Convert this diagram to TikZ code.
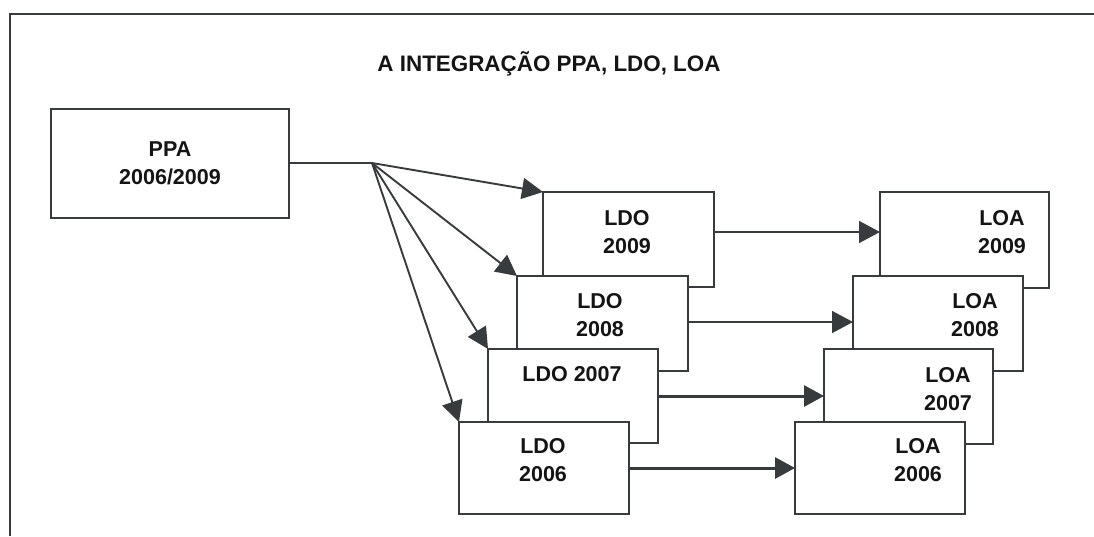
\documentclass[tikz,border=0pt]{standalone}
\usepackage{fontspec}
\setmainfont{Liberation Sans}
\usetikzlibrary{arrows.meta}
\definecolor{ln}{HTML}{383B3D}
\definecolor{tx}{HTML}{141414}
\tikzset{
  box/.style={draw=ln, line width=2.4pt, fill=white, inner sep=0pt, outer sep=0pt},
  lbl/.style={text=tx, font=\bfseries\fontsize{21.5}{28}\selectfont, align=center, inner sep=0pt},
  fan/.style={draw=ln, line width=1.9pt, -{Triangle[length=21pt,width=21pt]}},
  harr/.style={draw=ln, line width=1.6pt, -{Triangle[length=21pt,width=22pt]}},
  harrb/.style={draw=ln, line width=3pt, -{Triangle[length=20pt,width=21pt]}},
}
\begin{document}
\begin{tikzpicture}[x=1pt,y=-1pt]
\useasboundingbox (0,0) rectangle (1094,536);
% frame
\draw[ln, line width=2.8pt] (10,536) -- (10,14) -- (1094,14);
% title
\node[lbl, font=\bfseries\fontsize{22.4}{28}\selectfont] (title) at (549,63.5) {A INTEGRAÇÃO PPA, LDO, LOA};
% PPA
\node[box, minimum width=238pt, minimum height=109pt] (ppa) at (170,163.5) {};
\node[lbl] (tppa) at (170,163) {PPA\\2006/2009};
% LDO stack
\node[box, minimum width=171pt, minimum height=95pt] (ldo9) at (628.5,239.5) {};
\node[box, minimum width=171pt, minimum height=95pt] (ldo8) at (602.5,323.5) {};
\node[box, minimum width=170pt, minimum height=94pt] (ldo7) at (573,396) {};
\node[box, minimum width=170pt, minimum height=92pt] (ldo6) at (544,468) {};
\node[lbl] (tldo9) at (627,232.5) {LDO\\2009};
\node[lbl] (tldo8) at (600,315.5) {LDO\\2008};
\node[lbl] (tldo7) at (572,374) {LDO 2007};
\node[lbl] (tldo6) at (543,460) {LDO\\2006};
% LOA stack
\node[box, minimum width=169pt, minimum height=96pt] (loa9) at (964.5,240) {};
\node[box, minimum width=170pt, minimum height=95pt] (loa8) at (938,323.5) {};
\node[box, minimum width=169pt, minimum height=95pt] (loa7) at (908.5,396.5) {};
\node[box, minimum width=170pt, minimum height=92pt] (loa6) at (880,468) {};
\node[lbl] (tloa9) at (1002,232.5) {LOA\\2009};
\node[lbl] (tloa8) at (975,315.5) {LOA\\2008};
\node[lbl] (tloa7) at (948,389) {LOA\\2007};
\node[lbl] (tloa6) at (918,460) {LOA\\2006};
% PPA to hub
\coordinate (hub) at (372,163);
\draw[ln, line width=1.2pt] (ppa.east |- hub) -- (hub);
% fan arrows
\draw[fan] (hub) -- (ldo9.north west);
\draw[fan] (hub) -- (ldo8.north west);
\draw[fan] (hub) -- (ldo7.north west);
\draw[fan] (hub) -- (ldo6.north west);
% horizontal arrows
\draw[harr] ([yshift=7.5pt]ldo9.east) -- ([yshift=8pt]loa9.west);
\draw[harr] ([yshift=1.5pt]ldo8.east) -- ([yshift=1.5pt]loa8.west);
\draw[harrb] (ldo7.east) -- (loa7.west |- ldo7.east);
\draw[harrb] (ldo6.east) -- (loa6.west);
\end{tikzpicture}
\end{document}
